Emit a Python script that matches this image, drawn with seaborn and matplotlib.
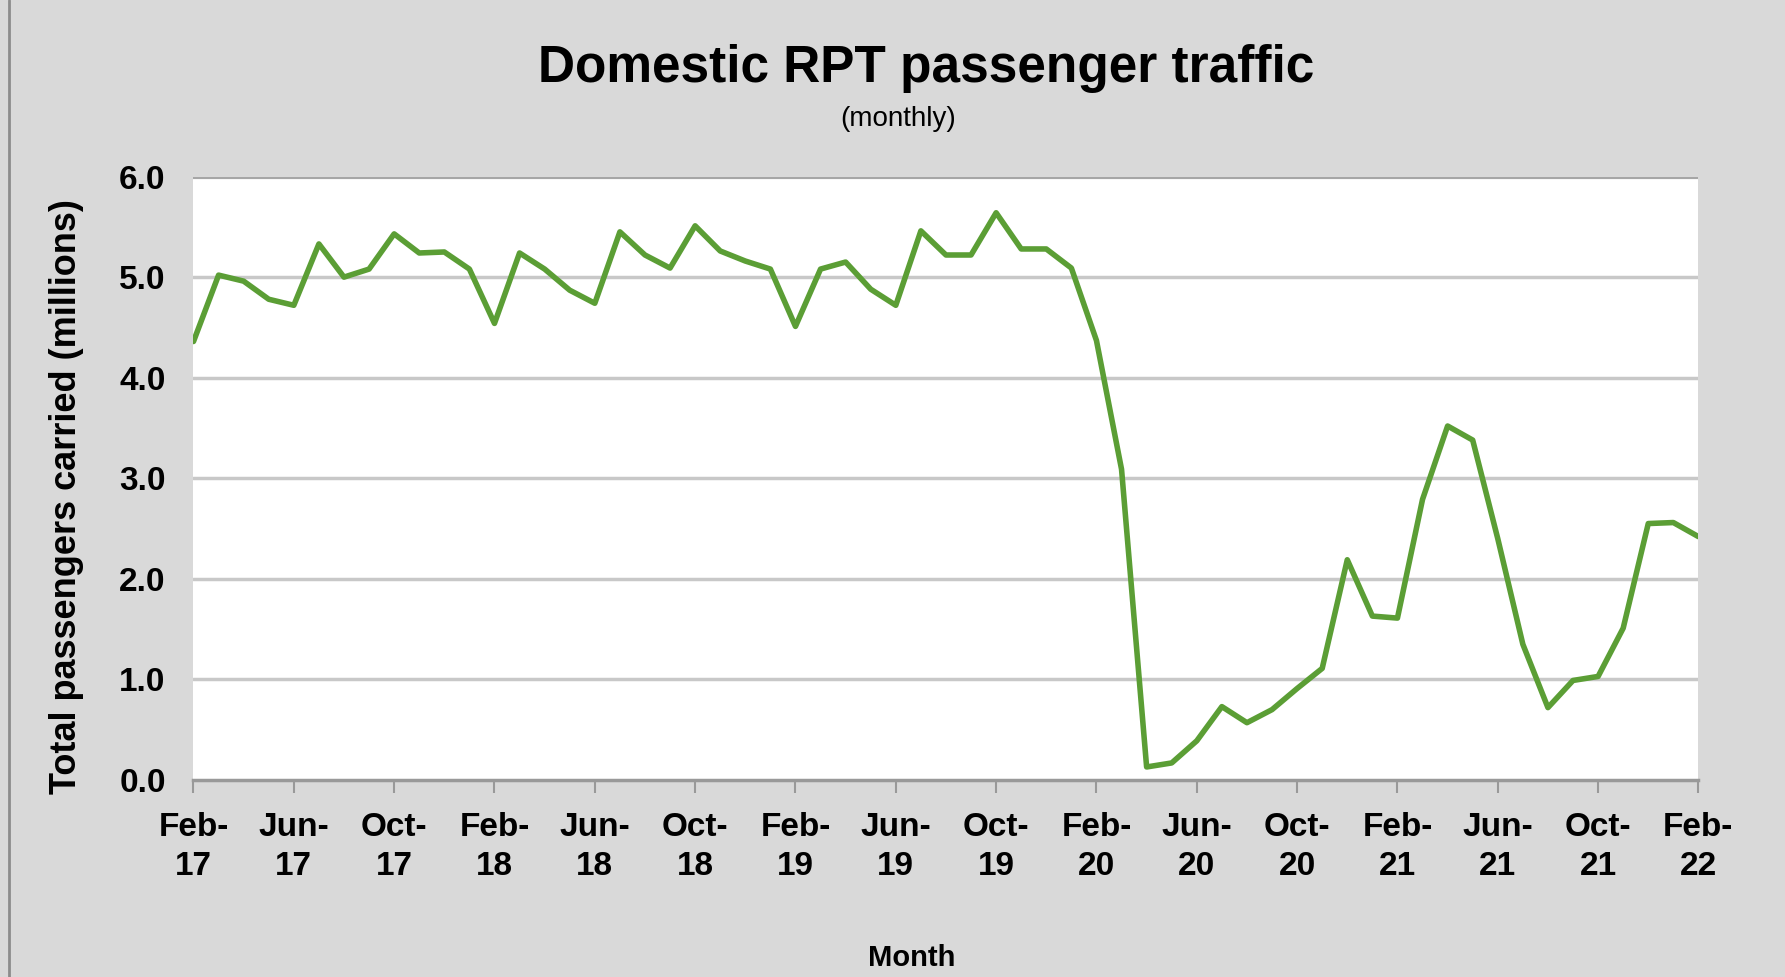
import matplotlib
matplotlib.use("Agg")
import matplotlib.pyplot as plt
import seaborn as sns
import pandas as pd
from matplotlib.lines import Line2D

# ---- data ----
months = pd.date_range("2017-02-01", "2022-02-01", freq="MS")
passengers = [
    4.36, 5.02, 4.96, 4.78, 4.72, 5.33, 5.00, 5.08, 5.43, 5.24, 5.25, 5.08,
    4.54, 5.24, 5.08, 4.87, 4.74, 5.45, 5.22, 5.09, 5.51, 5.26, 5.16, 5.08,
    4.51, 5.08, 5.15, 4.88, 4.72, 5.46, 5.22, 5.22, 5.64, 5.28, 5.28, 5.09,
    4.37, 3.09, 0.13, 0.17, 0.39, 0.73, 0.57, 0.70, 0.91, 1.11, 2.19, 1.63,
    1.61, 2.79, 3.52, 3.38, 2.40, 1.35, 0.72, 0.99, 1.03, 1.51, 2.55, 2.56,
    2.42,
]
tick_labels = ["Feb-\n17", "Jun-\n17", "Oct-\n17", "Feb-\n18", "Jun-\n18", "Oct-\n18",
               "Feb-\n19", "Jun-\n19", "Oct-\n19", "Feb-\n20", "Jun-\n20", "Oct-\n20",
               "Feb-\n21", "Jun-\n21", "Oct-\n21", "Feb-\n22"]
y_ticks = [0.0, 1.0, 2.0, 3.0, 4.0, 5.0, 6.0]

df = pd.DataFrame({"idx": range(len(passengers)), "value": passengers})

sns.set_theme(style="white")
plt.rcParams["font.family"] = ["Liberation Sans", "DejaVu Sans"]
for k in ["text.color", "axes.labelcolor", "xtick.labelcolor", "ytick.labelcolor"]:
    plt.rcParams[k] = "black"

bg = "#d9d9d9"
fig = plt.figure(figsize=(17.85, 9.77), dpi=100, facecolor=bg)
ax = fig.add_axes([0.1084, 0.2016, 0.8431, 0.6177])
ax.set_facecolor("white")

for yv in y_ticks[1:]:
    ax.axhline(yv, color="#a6a6a6" if yv == 6.0 else "#c8c8c8",
               lw=3 if yv == 6.0 else 2.5, zorder=1)

sns.lineplot(data=df, x="idx", y="value", ax=ax, color="#5b9e35", lw=4, zorder=3)

ax.set_xlim(0, len(passengers) - 1)
ax.set_ylim(0, 6)
ax.set_xticks(range(0, len(passengers), 4))
ax.set_xticklabels(tick_labels, fontsize=24, fontweight="bold", linespacing=1.35)
ax.set_yticks(y_ticks)
ax.set_yticklabels([f"{v:.1f}" for v in y_ticks], fontsize=24, fontweight="bold")
ax.tick_params(axis="x", direction="out", length=9, width=1.5, color="#999999", pad=14, bottom=True)
ax.tick_params(axis="y", length=0, pad=20)

for s in ["top", "right", "left"]:
    ax.spines[s].set_visible(False)
ax.spines["bottom"].set_color("#999999")
ax.spines["bottom"].set_linewidth(2.5)

ax.set_xlabel("Month", fontsize=21, fontweight="bold")
ax.xaxis.set_label_coords(0.477, -0.272)
ax.set_ylabel("Total passengers carried (millions)", fontsize=26, fontweight="bold")
ax.yaxis.set_label_coords(-0.073, 0.47)

fig.text(0.519, 0.930, "Domestic RPT passenger traffic", ha="center", va="center",
         fontsize=37, fontweight="bold")
fig.text(0.503, 0.878, "(monthly)", ha="center", va="center", fontsize=20)

fig.add_artist(Line2D([0.005, 0.005], [0, 1], transform=fig.transFigure, color="#8c8c8c", lw=2))

fig.savefig("out.png", dpi=100, facecolor=bg)
